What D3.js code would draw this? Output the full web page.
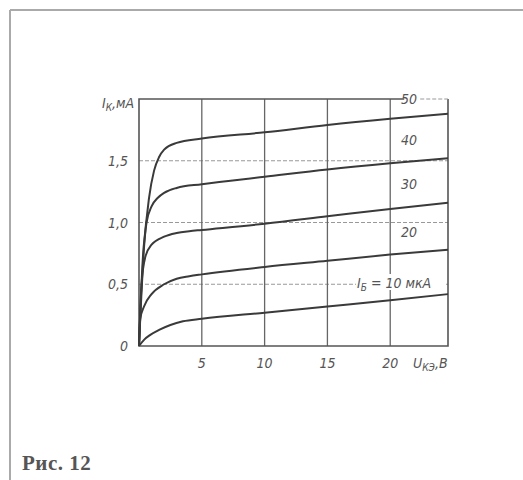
<!DOCTYPE html>
<html><head><meta charset="utf-8">
<script src="https://cdn.jsdelivr.net/npm/d3@7"></script>
<style>body{margin:0;background:#fff}svg{display:block}</style>
</head><body><svg id="c" width="523" height="480"></svg>
<script>
// Data
const seriesLabels = ["10","20","30","40","50"];
const uce = {
  "10": [0,0.4,0.9,1.6,2.5,3.5,5,10,15,20,24.6],
  "20": [0,0.1,0.4,1,2,3,4,5,10,15,20,24.6],
  "30": [0,0.2,0.5,1,2,3,4,5,10,15,20,24.6],
  "40": [0,0.3,0.6,1,1.5,2,3,5,10,15,20,24.6],
  "50": [0,0.4,0.8,1.2,1.6,2,3,5,10,15,20,24.6]
};
const ik = {
  "10": [0,0.05,0.09,0.13,0.17,0.2,0.22,0.27,0.32,0.37,0.42],
  "20": [0,0.22,0.32,0.42,0.5,0.545,0.565,0.58,0.64,0.69,0.74,0.78],
  "30": [0,0.5,0.72,0.82,0.885,0.915,0.93,0.94,0.99,1.05,1.11,1.16],
  "40": [0,0.7,1.0,1.13,1.2,1.24,1.28,1.31,1.37,1.43,1.48,1.52],
  "50": [0,0.8,1.2,1.42,1.53,1.59,1.645,1.68,1.73,1.79,1.84,1.88]
};
const xTicks = [5,10,15,20];
const xTickLabels = ["5","10","15","20"];
const yTicks = [0,0.5,1.0,1.5];
const yTickLabels = ["0","0,5","1,0","1,5"];

const svg = d3.select("#c");
// outer page frame
svg.append("line").attr("x1",10).attr("y1",10).attr("x2",523).attr("y2",10).attr("stroke","#aaa").attr("stroke-width",2);
svg.append("line").attr("x1",10).attr("y1",10).attr("x2",10).attr("y2",480).attr("stroke","#aaa").attr("stroke-width",2);

const x = d3.scaleLinear().domain([0,24.6]).range([139,448]);
const y = d3.scaleLinear().domain([0,2.0]).range([346,99]);
const ink = "#3a3a3a";

// horizontal grid (light, dashed)
svg.append("g").selectAll("line").data(yTicks.filter(d=>d>0)).join("line")
  .attr("x1",x(0)).attr("x2",x(24.6)).attr("y1",d=>y(d)).attr("y2",d=>y(d))
  .attr("stroke","#999").attr("stroke-width",1).attr("stroke-dasharray","4,2");
// vertical grid
svg.append("g").selectAll("line").data(xTicks).join("line")
  .attr("x1",d=>x(d)).attr("x2",d=>x(d)).attr("y1",y(0)).attr("y2",y(2))
  .attr("stroke","#666").attr("stroke-width",1.3);

// frame
svg.append("path").attr("d",`M${x(20)+14},${y(2)}H${x(0)}V${y(0)}H${x(24.6)}V${y(2)}`)
  .attr("fill","none").attr("stroke","#555").attr("stroke-width",1.6);
svg.append("line").attr("x1",x(20)+30).attr("x2",x(24.6)).attr("y1",y(2)).attr("y2",y(2))
  .attr("stroke","#999").attr("stroke-width",1.2).attr("stroke-dasharray","4,2");

// curves
const line = d3.line().x(d=>x(d[0])).y(d=>y(d[1])).curve(d3.curveMonotoneX);
seriesLabels.forEach(s=>{
  const pts = uce[s].map((u,i)=>[u,ik[s][i]]);
  svg.append("path").attr("d",line(pts)).attr("fill","none").attr("stroke",ink).attr("stroke-width",2);
});

const lab = {"font-family":"'Liberation Sans Narrow','DejaVu Sans Condensed',sans-serif","font-style":"italic","fill":"#555","font-size":"14px"};
function t(txt,xx,yy,anchor){const e=svg.append("text").attr("x",xx).attr("y",yy).attr("text-anchor",anchor||"start");for(const k in lab)e.attr(k,lab[k]);e.text(txt);return e;}

// tick labels
yTicks.forEach((v,i)=>t(yTickLabels[i],128,y(v)+5,"end"));
xTicks.forEach((v,i)=>t(xTickLabels[i],x(v),368,"middle"));

// axis titles
const yt=t("",102,108);
yt.append("tspan").text("I");
yt.append("tspan").attr("dy",3).attr("font-size","10px").text("К");
yt.append("tspan").attr("dy",-3).text(",мА");
const xt=t("",413,368);
xt.append("tspan").text("U");
xt.append("tspan").attr("dy",3).attr("font-size","10px").text("КЭ");
xt.append("tspan").attr("dy",-3).text(",В");

// curve labels
const labPos = {"50":[y(2)+5],"40":[y(1.63)],"30":[y(1.27)],"20":[y(0.88)]};
["50","40","30","20"].forEach(s=>t(s,x(21.5),labPos[s][0],"middle"));
svg.append("rect").attr("x",356).attr("y",274).attr("width",90).attr("height",16).attr("fill","#fff");
const lb=t("",357,288);
lb.append("tspan").text("I");
lb.append("tspan").attr("dy",3).attr("font-size","10px").text("Б");
lb.append("tspan").attr("dy",-3).text(" = 10 мкА");

// caption
svg.append("text").attr("x",22).attr("y",470).attr("font-family","'Liberation Serif',serif").attr("font-weight","bold")
  .attr("font-size","21px").attr("letter-spacing","0.5px").attr("fill","#555").text("Рис. 12");
</script></body></html>
